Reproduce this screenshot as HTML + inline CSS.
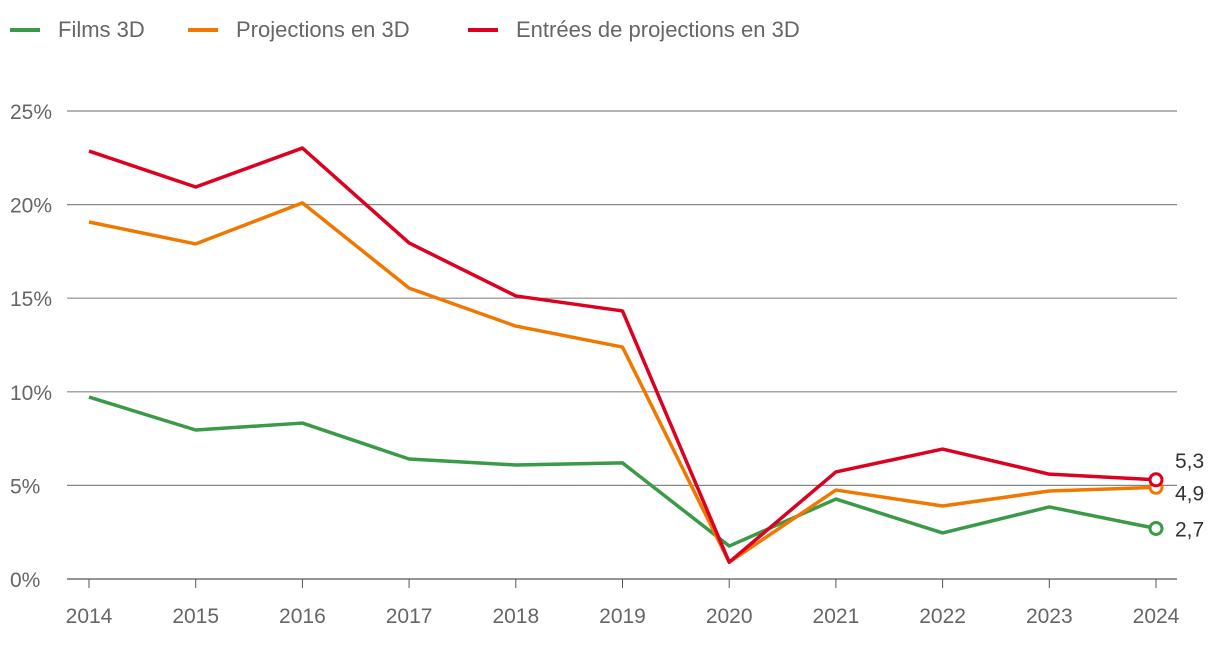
<!DOCTYPE html>
<html><head><meta charset="utf-8"><style>
body{margin:0;background:#fff;font-family:"Liberation Sans",sans-serif}
svg text{font-family:"Liberation Sans",sans-serif}
</style></head><body>
<svg id="chart" width="1220" height="646">
<g id="legend"></g>
<g id="grid"></g>
<g id="xaxis"></g>
<g id="series"></g>
</svg>
<script>
const years=[2014,2015,2016,2017,2018,2019,2020,2021,2022,2023,2024];
const films=[9.72,7.96,8.33,6.41,6.09,6.2,1.76,4.27,2.46,3.85,2.7];
const projections=[19.07,17.9,20.09,15.54,13.51,12.39,0.9,4.75,3.9,4.7,4.9];
const entrees=[22.86,20.94,23.02,17.95,15.12,14.32,0.9,5.72,6.94,5.6,5.3];
const yTicks=[0,5,10,15,20,25];
const endLabels=["2,7","4,9","5,3"];
const NS="http://www.w3.org/2000/svg";
const x=i=>89+i*(1156-89)/(years.length-1);
const y=v=>579-v*(579-111)/25;
function mk(tag,attrs,parent,text){const e=document.createElementNS(NS,tag);for(const k in attrs)e.setAttribute(k,attrs[k]);if(text!==undefined)e.textContent=text;parent.appendChild(e);return e;}
const grid=document.getElementById('grid');
yTicks.forEach(t=>{
  const l=mk('line',{x1:67,x2:1177,y1:y(t),y2:y(t),stroke:t===0?'#555':'#888','stroke-width':1.2},grid);
  
  
  const tx=mk('text',{x:10,y:y(t)+8,'font-size':21,fill:'#666'},grid,t+'%');
  
  
});
const xa=document.getElementById('xaxis');
years.forEach((yr,i)=>{
  const l=mk('line',{x1:x(i),x2:x(i),y1:579,y2:588,stroke:'#555'},xa);
  
  
  const tx=mk('text',{x:x(i),y:623,'font-size':21,fill:'#666','text-anchor':'middle'},xa,yr);
  
  
});
const ser=[[films,'#3a9a48','films-3d'],[projections,'#f07800','projections-3d'],[entrees,'#dc0021','entrees-3d']];
const sg=document.getElementById('series');
ser.forEach(([d,c,n],si)=>{
  const p=mk('polyline',{points:d.map((v,i)=>x(i)+','+y(v)).join(' '),fill:'none',stroke:c,'stroke-width':3.5,'stroke-linejoin':'round'},sg);
  
  
  const last=d.length-1;
  const ci=mk('circle',{cx:x(last),cy:y(d[last]),r:6,fill:'#fff',stroke:c,'stroke-width':3},sg);
  
  
});
const labY=[y(films[10])+8,y(projections[10])+13,y(entrees[10])-12];
endLabels.forEach((t,i)=>{
  const tx=mk('text',{x:1175,y:labY[i],'font-size':21,fill:'#333'},sg,t);
  
  
});
const lg=document.getElementById('legend');
const leg=[['Films 3D','#3a9a48',10],['Projections en 3D','#f07800',188],['Entrées de projections en 3D','#dc0021',468]];
leg.forEach(([t,c,lx])=>{
  const l=mk('line',{x1:lx,x2:lx+30,y1:30,y2:30,stroke:c,'stroke-width':4},lg);
  
  
  const tx=mk('text',{x:lx+48,y:37,'font-size':22,fill:'#666'},lg,t);
  
  
});
</script>
</body></html>
